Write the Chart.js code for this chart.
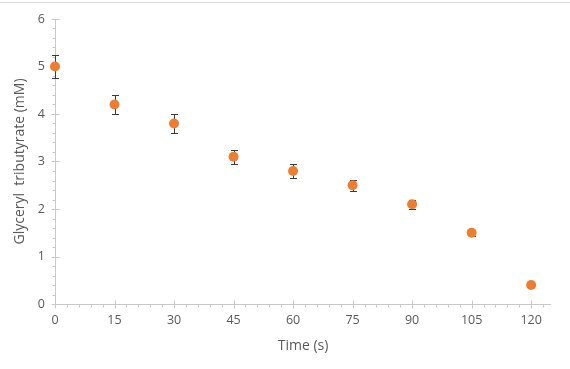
<!DOCTYPE html>
<html>
<head>
<meta charset="utf-8">
<script src="https://cdn.jsdelivr.net/npm/chart.js@4/dist/chart.umd.min.js"></script>
<style>
  html, body { margin: 0; padding: 0; background: #ffffff; }
  #wrap { position: relative; width: 570px; height: 369px; }
  #topline { position: absolute; left: 0; top: 2px; width: 570px; height: 1px; background: #dcdcdc; }
  canvas { position: absolute; left: 0; top: 0; }
</style>
</head>
<body>
<div id="wrap">
  <canvas id="c" width="570" height="369"></canvas>
  <div id="topline"></div>
</div>
<script>
// ---- data ----
const times = [0, 15, 30, 45, 60, 75, 90, 105, 120];
const values = [5.0, 4.2, 3.8, 3.1, 2.8, 2.5, 2.1, 1.5, 0.4];
const errors = [0.25, 0.2, 0.19, 0.15, 0.15, 0.12, 0.1, 0.06, 0.0];
const xTickValues = [0, 15, 30, 45, 60, 75, 90, 105, 120];
const yTickValues = [0, 1, 2, 3, 4, 5, 6];
const xTitle = 'Time (s)';
const yTitle = 'Glyceryl  tributyrate (mM)';

const FONT = '"Open Sans", "Noto Sans", sans-serif';
const AXIS_COLOR = '#c8c8c8';
const LABEL_COLOR = '#595959';

const axesPlugin = {
  id: 'axesAndErrors',
  beforeDatasetsDraw(chart) {
    const ctx = chart.ctx;
    const xs = chart.scales.x, ys = chart.scales.y;
    const x0 = Math.round(xs.getPixelForValue(0)) + 0.5;
    const y0 = Math.round(ys.getPixelForValue(0)) + 0.5;
    const xEnd = xs.getPixelForValue(125);
    const yTop = ys.getPixelForValue(6);
    ctx.save();
    ctx.strokeStyle = AXIS_COLOR;
    ctx.lineWidth = 1;
    ctx.beginPath();
    ctx.moveTo(x0, y0); ctx.lineTo(x0, yTop);
    ctx.moveTo(x0, y0); ctx.lineTo(xEnd, y0);
    for (let v = 0; v <= 6.0001; v += 0.2) {
      const py = Math.round(ys.getPixelForValue(v)) + 0.5;
      const major = Math.abs(v - Math.round(v)) < 1e-6;
      if (major) { ctx.moveTo(x0 - 4, py); ctx.lineTo(x0 + 4, py); }
      else { ctx.moveTo(x0 - 3, py); ctx.lineTo(x0, py); }
    }
    for (let v = 0; v <= 123; v += 3) {
      const px = Math.round(xs.getPixelForValue(v)) + 0.5;
      const major = v % 15 === 0;
      if (major) { ctx.moveTo(px, y0 - 4); ctx.lineTo(px, y0 + 4); }
      else { ctx.moveTo(px, y0); ctx.lineTo(px, y0 + 3); }
    }
    ctx.stroke();

    ctx.strokeStyle = '#3a3a3a';
    ctx.lineWidth = 1;
    ctx.beginPath();
    for (let i = 0; i < times.length; i++) {
      if (!errors[i]) continue;
      const px = Math.round(xs.getPixelForValue(times[i])) + 0.5;
      const pt = Math.round(ys.getPixelForValue(values[i] + errors[i])) + 0.5;
      const pb = Math.round(ys.getPixelForValue(values[i] - errors[i])) + 0.5;
      ctx.moveTo(px, pt); ctx.lineTo(px, pb);
      ctx.moveTo(px - 3.5, pt); ctx.lineTo(px + 3.5, pt);
      ctx.moveTo(px - 3.5, pb); ctx.lineTo(px + 3.5, pb);
    }
    ctx.stroke();
    ctx.restore();
  }
};

new Chart(document.getElementById('c'), {
  type: 'scatter',
  data: {
    datasets: [{
      data: times.map((t, i) => ({ x: t, y: values[i] })),
      backgroundColor: '#ED7D31',
      borderColor: '#ED7D31',
      borderWidth: 0,
      pointRadius: 5,
      pointHoverRadius: 5,
      clip: false
    }]
  },
  options: {
    responsive: false,
    animation: false,
    events: [],
    layout: { padding: { top: 19, right: 19, left: 0, bottom: 0 } },
    plugins: { legend: { display: false }, tooltip: { enabled: false } },
    scales: {
      x: {
        type: 'linear', min: 0, max: 125,
        afterBuildTicks: s => { s.ticks = xTickValues.map(v => ({ value: v })); },
        afterFit: s => { s.height = 65; },
        grid: { display: false, drawTicks: false },
        border: { display: false },
        ticks: { color: LABEL_COLOR, font: { family: FONT, size: 12.5 }, padding: 9, maxRotation: 0 },
        title: { display: true, text: xTitle, color: LABEL_COLOR, font: { family: FONT, size: 14 }, padding: { top: 0, bottom: 15 } }
      },
      y: {
        type: 'linear', min: 0, max: 6,
        afterBuildTicks: s => { s.ticks = yTickValues.map(v => ({ value: v })); },
        afterFit: s => { s.width = 55; },
        grid: { display: false, drawTicks: false },
        border: { display: false },
        ticks: { color: LABEL_COLOR, font: { family: FONT, size: 12.5 }, padding: 10 },
        title: { display: true, text: yTitle, color: LABEL_COLOR, font: { family: FONT, size: 14 }, padding: { top: 12, bottom: 0 } }
      }
    }
  },
  plugins: [axesPlugin]
});
</script>
</body>
</html>
